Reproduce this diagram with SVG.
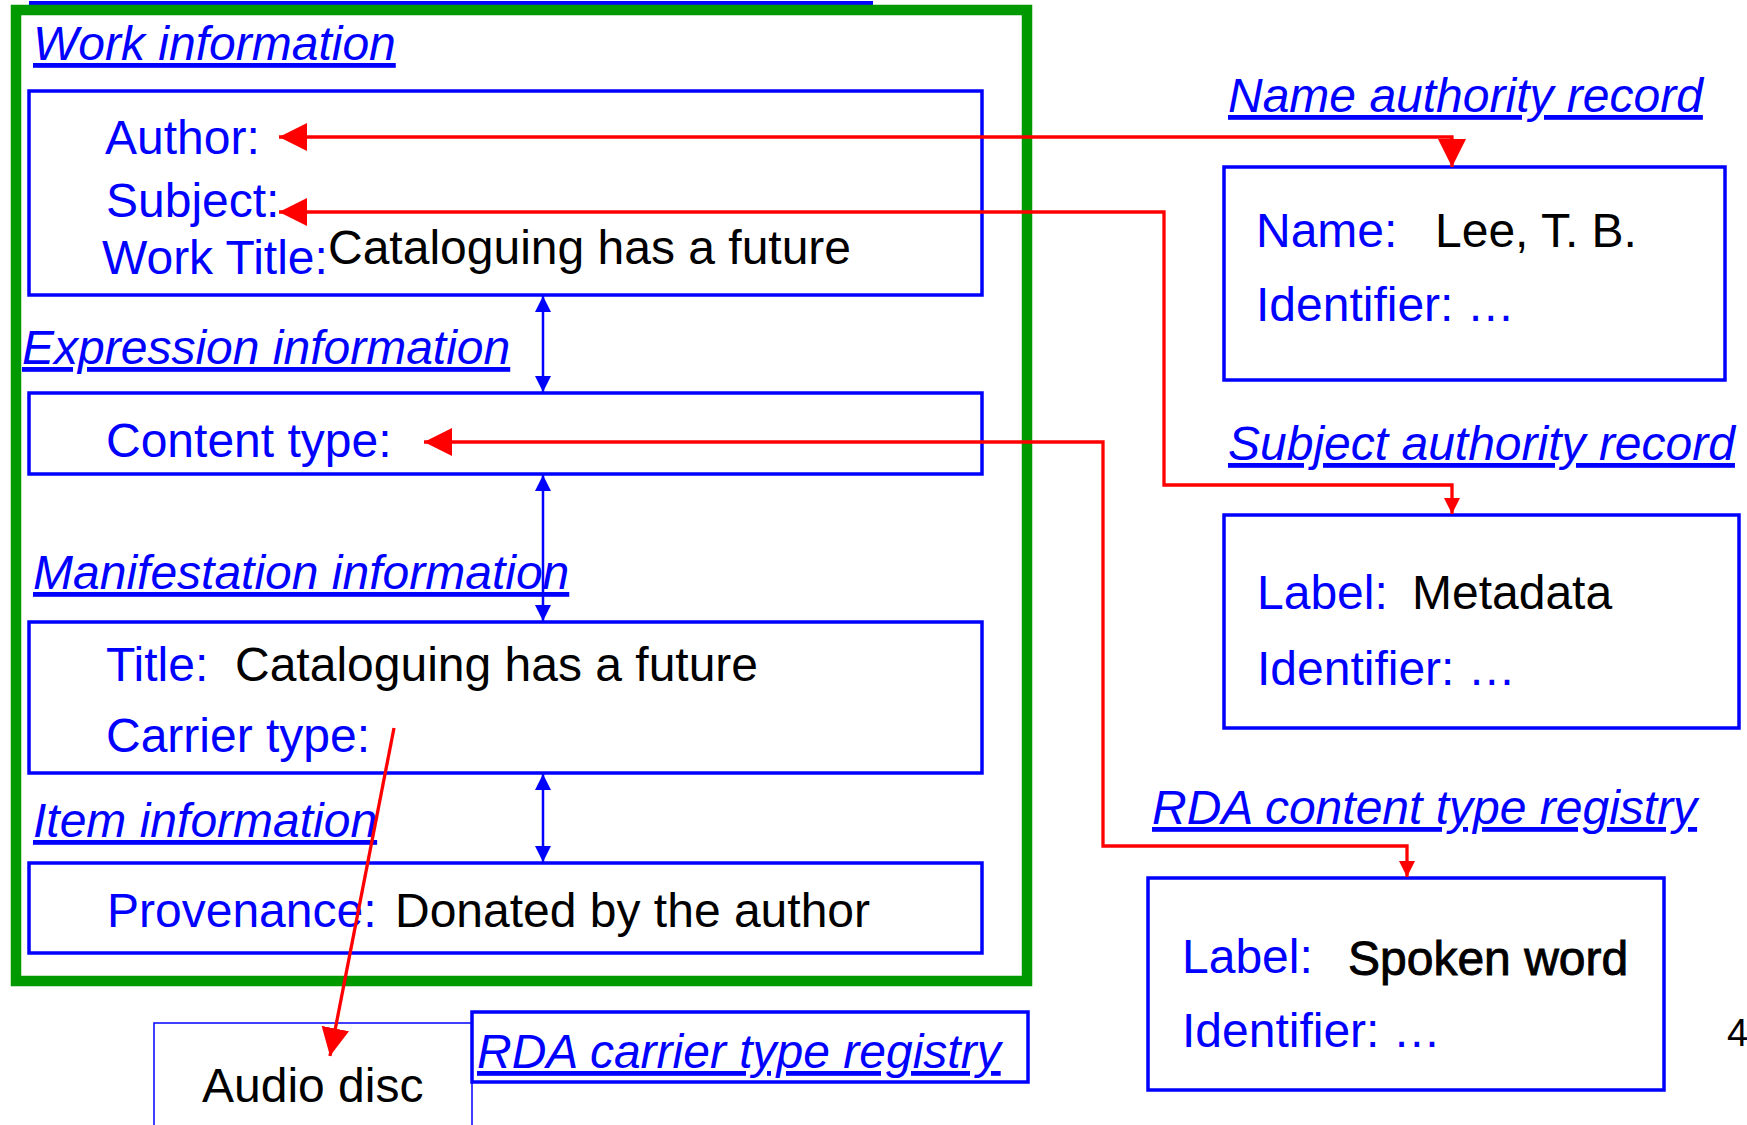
<svg xmlns="http://www.w3.org/2000/svg" width="1747" height="1125" viewBox="0 0 1747 1125">
<style>
text{font-family:"Liberation Sans",Arial,sans-serif;font-size:48px}
.b{fill:#0000ff}
.k{fill:#000}
.h{fill:#0000ff;font-style:italic;text-decoration:underline}
.box{fill:none;stroke:#0000ff;stroke-width:3.5}
.red{fill:none;stroke:#ff0000;stroke-width:3.3}
.blu{fill:none;stroke:#0000ff;stroke-width:2.5}
</style>
<defs>
<marker id="rBig" markerUnits="userSpaceOnUse" markerWidth="28" markerHeight="28" viewBox="0 0 26 26" refX="26" refY="13" orient="auto-start-reverse"><path d="M0,0 L26,13 L0,26 Z" fill="#ff0000"/></marker>
<marker id="rSmall" markerUnits="userSpaceOnUse" markerWidth="16" markerHeight="16" viewBox="0 0 15 15" refX="15" refY="7.5" orient="auto-start-reverse"><path d="M0,0 L15,7.5 L0,15 Z" fill="#ff0000"/></marker>
<marker id="bArr" markerUnits="userSpaceOnUse" markerWidth="16" markerHeight="16" viewBox="0 0 15 15" refX="15" refY="7.5" orient="auto-start-reverse"><path d="M0,0 L15,7.5 L0,15 Z" fill="#0000ff"/></marker>
</defs>
<rect x="29" y="1" width="844" height="4" fill="#0000ff"/>
<rect id="frbr-frame" x="16" y="10" width="1011" height="971" fill="none" stroke="#009900" stroke-width="10.5"/>

<g id="work">
<text class="h" x="33" y="60">Work information</text>
<rect class="box" x="29" y="91" width="953" height="204"/>
<text class="b" x="105" y="154">Author:</text>
<text class="b" x="106" y="217">Subject:</text>
<text class="b" x="102" y="274">Work Title:</text>
<text class="k" x="328" y="264">Cataloguing has a future</text>
</g>
<g id="expression">
<text class="h" x="22" y="364">Expression information</text>
<rect class="box" x="29" y="393" width="953" height="81"/>
<text class="b" x="106" y="457">Content type:</text>
</g>
<g id="manifestation">
<text class="h" x="33" y="589">Manifestation information</text>
<rect class="box" x="29" y="622" width="953" height="151"/>
<text class="b" x="106" y="681">Title:</text>
<text class="k" x="235" y="681">Cataloguing has a future</text>
<text class="b" x="106" y="752">Carrier type:</text>
</g>
<g id="item">
<text class="h" x="33" y="837">Item information</text>
<rect class="box" x="29" y="863" width="953" height="90"/>
<text class="b" x="107" y="927">Provenance:</text>
<text class="k" x="395" y="927">Donated by the author</text>
</g>
<g id="audio-disc">
<rect x="154" y="1023" width="318" height="130" fill="none" stroke="#0000ff" stroke-width="1.5"/>
<text class="k" x="202" y="1102">Audio disc</text>
</g>
<g id="carrier-registry">
<rect class="box" x="472" y="1012" width="556" height="70"/>
<text class="h" x="477" y="1068">RDA carrier type registry</text>
</g>
<g id="name-authority">
<text class="h" x="1228" y="112">Name authority record</text>
<rect class="box" x="1224" y="167" width="501" height="213"/>
<text class="b" x="1256" y="247">Name:</text>
<text class="k" x="1435" y="247">Lee, T. B.</text>
<text class="b" x="1256" y="321">Identifier: …</text>
</g>
<g id="subject-authority">
<text class="h" x="1228" y="460">Subject authority record</text>
<rect class="box" x="1224" y="515" width="515" height="213"/>
<text class="b" x="1257" y="609">Label:</text>
<text class="k" x="1412" y="609">Metadata</text>
<text class="b" x="1257" y="685">Identifier: …</text>
</g>
<g id="content-registry">
<text class="h" x="1152" y="824">RDA content type registry</text>
<rect class="box" x="1148" y="878" width="516" height="212"/>
<text class="b" x="1182" y="973">Label:</text>
<text class="k" x="1348" y="975" stroke="#000" stroke-width="0.9">Spoken word</text>
<text class="b" x="1182" y="1047">Identifier: …</text>
</g>
<text class="k" x="1727" y="1046" style="font-size:38px">4</text>

<g id="connectors">
<path class="red" d="M279,137 H1452 V167" marker-start="url(#rBig)" marker-end="url(#rBig)"/>
<path class="red" d="M279,212 H1164 V485 H1452 V514" marker-start="url(#rBig)" marker-end="url(#rSmall)"/>
<path class="red" d="M424,442 H1103 V846 H1407 V877" marker-start="url(#rBig)" marker-end="url(#rSmall)"/>
<path class="red" d="M394,728 L330,1056" marker-end="url(#rBig)"/>
<path class="blu" d="M543,296 V392" marker-start="url(#bArr)" marker-end="url(#bArr)"/>
<path class="blu" d="M543,475 V621" marker-start="url(#bArr)" marker-end="url(#bArr)"/>
<path class="blu" d="M543,774 V862" marker-start="url(#bArr)" marker-end="url(#bArr)"/>
</g>
</svg>
